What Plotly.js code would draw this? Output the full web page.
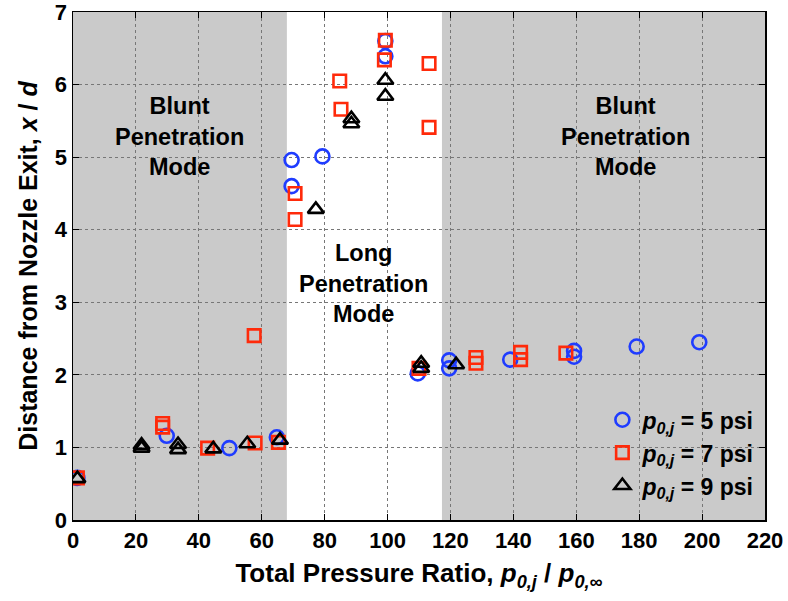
<!DOCTYPE html>
<html>
<head>
<meta charset="utf-8">
<script src="https://cdn.plot.ly/plotly-3.0.1.min.js"></script>
<style>html,body{margin:0;padding:0;background:#fff}#chart{width:788px;height:601px}</style>
</head>
<body>
<div id="chart"></div>
<script>
// Data
const psi5_x = [1.4, 29.8, 49.7, 64.8, 69.5, 69.5, 79.3, 99.3, 99.3, 109.6, 119.6, 119.6, 139.0, 159.3, 159.3, 179.2, 199.1];
const psi5_y = [0.58, 1.16, 0.99, 1.14, 4.96, 4.60, 5.01, 6.60, 6.39, 2.02, 2.20, 2.09, 2.21, 2.33, 2.25, 2.39, 2.45];

const psi7_x = [1.4, 28.5, 28.5, 42.8, 57.6, 57.9, 65.3, 70.6, 70.6, 84.8, 85.2, 99.3, 99.0, 113.2, 113.2, 110.0, 128.1, 128.1, 142.3, 142.3, 156.7];
const psi7_y = [0.58, 1.33, 1.28, 0.99, 2.54, 1.06, 1.07, 4.50, 4.14, 6.05, 5.66, 6.61, 6.34, 6.29, 5.41, 2.09, 2.24, 2.16, 2.31, 2.21, 2.30];

const psi9_x = [1.4, 21.8, 21.8, 33.4, 33.4, 44.6, 55.4, 65.8, 77.2, 88.5, 88.5, 99.3, 99.3, 110.7, 110.7, 121.8];
const psi9_y = [0.57, 1.03, 0.99, 1.04, 0.97, 0.98, 1.05, 1.10, 4.28, 5.53, 5.46, 6.06, 5.84, 2.16, 2.09, 2.14];

const seriesNames = ["<i>p</i><sub><i>0,j</i></sub> = 5 psi", "<i>p</i><sub><i>0,j</i></sub> = 7 psi", "<i>p</i><sub><i>0,j</i></sub> = 9 psi"];
const xTicks = [0, 20, 40, 60, 80, 100, 120, 140, 160, 180, 200, 220];
const yTicks = [0, 1, 2, 3, 4, 5, 6, 7];
const bluntLeft = [0, 68];
const bluntRight = [117.3, 220];

const F = 'Arial, "Liberation Sans", sans-serif';

const traces = [
  {x: psi5_x, y: psi5_y, name: seriesNames[0], mode: 'markers', type: 'scatter',
   marker: {symbol: 'circle-open', size: 14, color: '#1f3cff', line: {width: 2.6, color: '#1f3cff'}}},
  {x: psi7_x, y: psi7_y, name: seriesNames[1], mode: 'markers', type: 'scatter',
   marker: {symbol: 'square-open', size: 12.5, color: '#ff2a0a', line: {width: 2.6, color: '#ff2a0a'}}},
  {x: psi9_x, y: psi9_y, name: seriesNames[2], mode: 'markers', type: 'scatter',
   marker: {symbol: 'triangle-up-open', size: 14, color: '#000', line: {width: 2.6, color: '#000'}}}
];

const layout = {
  width: 788, height: 601,
  margin: {l: 73, r: 23, t: 12, b: 81},
  paper_bgcolor: '#fff', plot_bgcolor: '#fff',
  showlegend: true,
  legend: {x: 0.765, y: 0.025, xanchor: 'left', yanchor: 'bottom', bgcolor: 'rgba(0,0,0,0)',
           font: {family: F, size: 23, color: '#000', weight: 'bold'}, tracegroupgap: 0, itemwidth: 30},
  xaxis: {range: [0, 220], tickvals: xTicks, ticktext: xTicks.map(String),
          ticks: 'inside', ticklen: 6, tickwidth: 1, tickcolor: '#000', mirror: 'allticks',
          showline: true, linecolor: '#000', linewidth: 1.5, ticklabeloverflow: 'allow',
          showgrid: true, gridcolor: '#777', griddash: 'dot', gridwidth: 1, zeroline: false,
          tickfont: {family: F, size: 22, color: '#000', weight: 'bold'},
          title: {text: 'Total Pressure Ratio, <i>p</i><sub><i>0,j</i></sub> / <i>p</i><sub><i>0,∞</i></sub>',
                  font: {family: F, size: 26, color: '#000', weight: 'bold'}, standoff: 12}},
  yaxis: {range: [0, 7], tickvals: yTicks, ticktext: yTicks.map(String),
          ticks: 'inside', ticklen: 6, tickwidth: 1, tickcolor: '#000', mirror: 'allticks',
          showline: true, linecolor: '#000', linewidth: 1.5, ticklabeloverflow: 'allow',
          showgrid: true, gridcolor: '#777', griddash: 'dot', gridwidth: 1, zeroline: false,
          tickfont: {family: F, size: 22, color: '#000', weight: 'bold'},
          title: {text: 'Distance from Nozzle Exit, <i>x</i> / <i>d</i>',
                  font: {family: F, size: 25, color: '#000', weight: 'bold'}, standoff: 10}},
  shapes: [
    {type: 'rect', xref: 'x', yref: 'paper', x0: bluntLeft[0], x1: bluntLeft[1], y0: 0, y1: 1,
     fillcolor: '#cacaca', line: {width: 0}, layer: 'below'},
    {type: 'rect', xref: 'x', yref: 'paper', x0: bluntRight[0], x1: bluntRight[1], y0: 0, y1: 1,
     fillcolor: '#cacaca', line: {width: 0}, layer: 'below'}
  ],
  annotations: [
    {x: 33.9, y: 5.28, xref: 'x', yref: 'y', text: 'Blunt<br>Penetration<br>Mode', showarrow: false,
     font: {family: F, size: 23.5, color: '#000', weight: 'bold'}, align: 'center'},
    {x: 175.5, y: 5.28, xref: 'x', yref: 'y', text: 'Blunt<br>Penetration<br>Mode', showarrow: false,
     font: {family: F, size: 23.5, color: '#000', weight: 'bold'}, align: 'center'},
    {x: 92.2, y: 3.26, xref: 'x', yref: 'y', text: 'Long<br>Penetration<br>Mode', showarrow: false,
     font: {family: F, size: 23.5, color: '#000', weight: 'bold'}, align: 'center'}
  ]
};

Plotly.newPlot('chart', traces, layout, {displayModeBar: false, staticPlot: true});
</script>
</body>
</html>
